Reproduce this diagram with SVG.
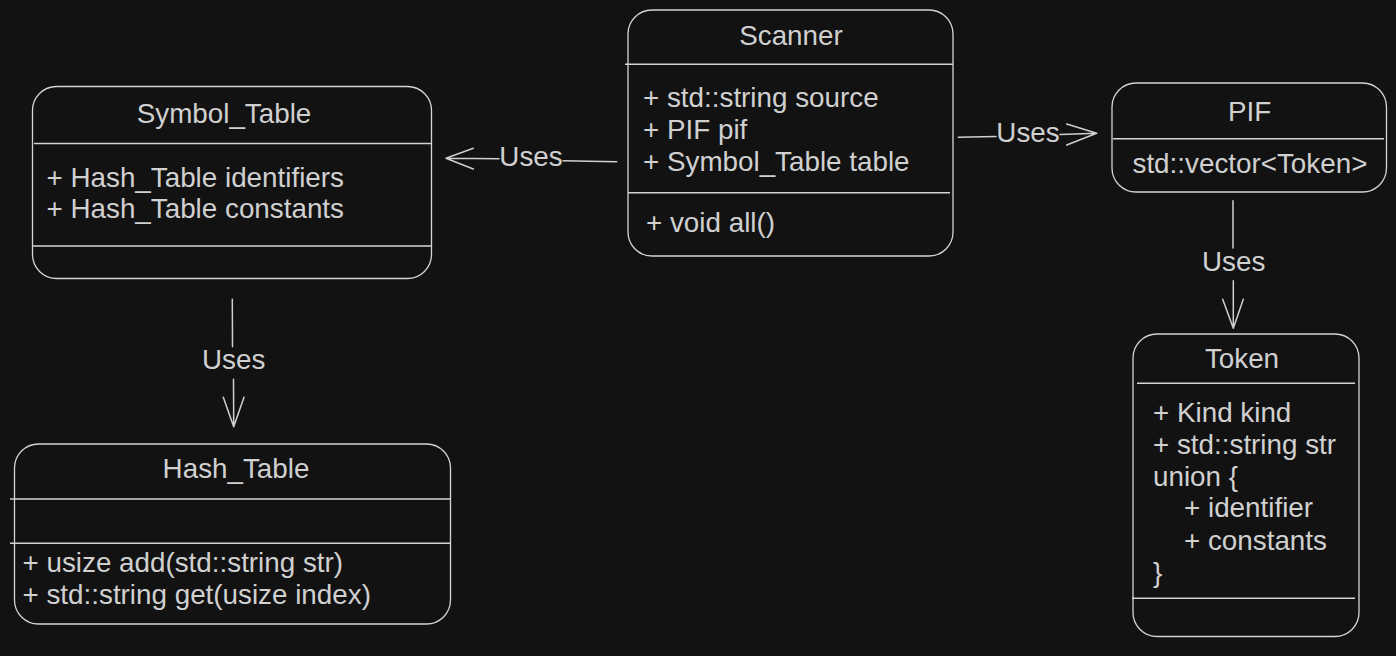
<svg xmlns="http://www.w3.org/2000/svg" width="1396" height="656" viewBox="0 0 1396 656">
<style>
text{font-family:"Liberation Sans",Arial,Helvetica,sans-serif;font-size:27.8px;fill:#d0d0d0}
.t{text-anchor:middle}
.box{fill:#121212;stroke:#d4d4d4;stroke-width:1.3}
.div{stroke:#d4d4d4;stroke-width:1.4;fill:none}
.edge{stroke:#cfcfcf;stroke-width:1.5;fill:none;stroke-linecap:round;stroke-linejoin:round}
</style>
<rect width="1396" height="656" fill="#121212"/>
<g id="Scanner">
<rect class="box" x="628" y="10" width="325" height="246" rx="24"/>
<text class="t" x="791" y="44.5">Scanner</text>
<line class="div" x1="625" y1="64.3" x2="953" y2="64.3"/>
<text x="643" y="107">+ std::string source</text>
<text x="643" y="138.5">+ PIF pif</text>
<text x="643" y="171">+ Symbol_Table table</text>
<line class="div" x1="628" y1="192.7" x2="950" y2="192.7"/>
<text x="646" y="232">+ void all()</text>
</g>
<g id="Symbol_Table">
<rect class="box" x="32.5" y="86.5" width="399" height="192" rx="24"/>
<text class="t" x="224" y="122.7">Symbol_Table</text>
<line class="div" x1="34" y1="143.5" x2="431" y2="143.5"/>
<text x="46.5" y="187">+ Hash_Table identifiers</text>
<text x="46.5" y="218">+ Hash_Table constants</text>
<line class="div" x1="32.5" y1="246" x2="431" y2="246"/>
</g>
<g id="Hash_Table">
<rect class="box" x="14.5" y="444" width="436" height="180" rx="24"/>
<text class="t" x="236" y="477.7">Hash_Table</text>
<line class="div" x1="10" y1="499" x2="450.5" y2="499"/>
<line class="div" x1="10" y1="543.3" x2="450.5" y2="543.3"/>
<text x="22.5" y="572">+ usize add(std::string str)</text>
<text x="22.5" y="604">+ std::string get(usize index)</text>
</g>
<g id="PIF">
<rect class="box" x="1112" y="83" width="274.5" height="109" rx="24"/>
<text class="t" x="1249.5" y="120.7">PIF</text>
<line class="div" x1="1113" y1="138.7" x2="1384" y2="138.7"/>
<text x="1132.5" y="173.3">std::vector&lt;Token&gt;</text>
</g>
<g id="Token">
<rect class="box" x="1133" y="334" width="226" height="302.5" rx="24"/>
<text class="t" x="1242" y="367.7">Token</text>
<line class="div" x1="1137" y1="383.3" x2="1355" y2="383.3"/>
<text x="1153" y="421.7">+ Kind kind</text>
<text x="1153" y="453.5">+ std::string str</text>
<text x="1153" y="485.7">union {</text>
<text x="1184" y="517">+ identifier</text>
<text x="1184" y="550">+ constants</text>
<text x="1153" y="582">}</text>
<line class="div" x1="1132" y1="598.3" x2="1355" y2="598.3"/>
</g>
<g id="connectors">
<path class="edge" d="M616.7 161.7 L563 160.8 M499 158.8 L446 158.3 M473.3 148.3 L446 158.3 L473.3 169"/>
<text class="t" x="531" y="166">Uses</text>
<path class="edge" d="M958.3 137.3 L996 136.5 M1060 134.5 L1096.7 133.3 M1066.7 124 L1096.7 133.3 L1066.7 145"/>
<text class="t" x="1028" y="141.7">Uses</text>
<path class="edge" d="M1233 200.7 L1233 248 M1233.3 280.7 L1233.3 328.3 M1222.7 299.3 L1233.3 328.3 L1243.3 299.3"/>
<text class="t" x="1233.7" y="270.7">Uses</text>
<path class="edge" d="M232.3 299.3 L232.5 346.7 M233.5 379.3 L233.7 426.7 M223.3 397.3 L233.7 426.7 L244 397.3"/>
<text class="t" x="233.7" y="369.3">Uses</text>
</g>
</svg>
